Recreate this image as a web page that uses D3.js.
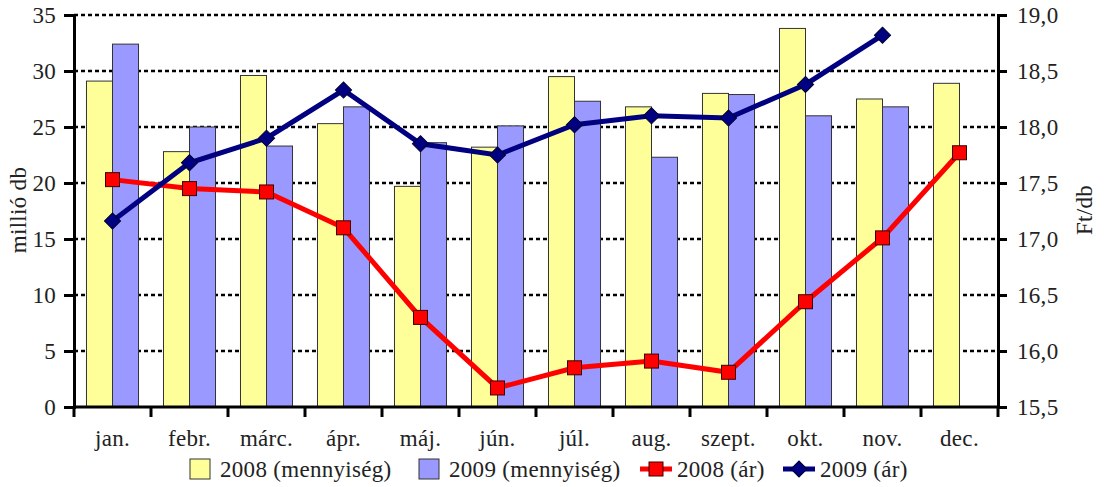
<!DOCTYPE html>
<html>
<head>
<meta charset="utf-8">
<script src="https://cdn.jsdelivr.net/npm/d3@7"></script>
<style>
  body { margin: 0; background: #fff; }
  svg text { font-family: "Liberation Serif", "Times New Roman", serif; fill: #222; letter-spacing: 0.3px; }
</style>
</head>
<body>
<svg id="chart" width="1104" height="487"></svg>
<script>
// Months (Hungarian abbreviations)
const months = ["jan.", "febr.", "márc.", "ápr.", "máj.", "jún.", "júl.", "aug.", "szept.", "okt.", "nov.", "dec."];

// Quantities, million pieces (left axis)
const qty2008 = [29.1, 22.8, 29.6, 25.3, 19.7, 23.2, 29.5, 26.8, 28.0, 33.8, 27.5, 28.9];
const qty2009 = [32.4, 25.0, 23.3, 26.8, 23.6, 25.1, 27.3, 22.3, 27.9, 26.0, 26.8, null];

// Prices, Ft/db (right axis)
const price2008 = [17.53, 17.45, 17.42, 17.10, 16.30, 15.67, 15.85, 15.91, 15.81, 16.44, 17.01, 17.77];
const price2009 = [17.16, 17.68, 17.90, 18.33, 17.85, 17.75, 18.02, 18.10, 18.08, 18.38, 18.82, null];

const leftTicks = [0, 5, 10, 15, 20, 25, 30, 35];
const rightTicks = [15.5, 16.0, 16.5, 17.0, 17.5, 18.0, 18.5, 19.0];

const legendItems = [
  { label: "2008 (mennyiség)", type: "bar", color: "#FFFF99", x: 190 },
  { label: "2009 (mennyiség)", type: "bar", color: "#9999FF", x: 419 },
  { label: "2008 (ár)", type: "square", color: "#FF0000", x: 640 },
  { label: "2009 (ár)", type: "diamond", color: "#000080", x: 783 }
];

const fontSize = 23;
const margin = { top: 15, right: 106, bottom: 80, left: 74 };
const width = 1104, height = 487;
const innerWidth = width - margin.left - margin.right;
const innerHeight = height - margin.top - margin.bottom;

const svg = d3.select("#chart");
const g = svg.append("g").attr("transform", `translate(${margin.left},${margin.top})`);

/*************/
/*  Scales   */
/*************/
const xScale = d3.scaleBand().domain(months).range([0, innerWidth]).padding(0);
const xSub = d3.scaleBand().domain(["y2008", "y2009"]).range([0, xScale.bandwidth()])
  .paddingInner(0).paddingOuter(0.48);
const yLeft = d3.scaleLinear().domain([0, 35]).range([innerHeight, 0]);
const yRight = d3.scaleLinear().domain([15.5, 19.0]).range([innerHeight, 0]);

/****************/
/*  Gridlines   */
/****************/
g.append("g")
  .selectAll("line")
  .data(leftTicks.filter(t => t > 0))
  .join("line")
    .attr("x1", 0).attr("x2", innerWidth)
    .attr("y1", d => yLeft(d)).attr("y2", d => yLeft(d))
    .attr("stroke", "#000")
    .attr("stroke-width", 2.5)
    .attr("stroke-dasharray", "4,3");

/***********/
/*  Bars   */
/***********/
const barData = months.flatMap((m, i) => [
  { month: m, key: "y2008", value: qty2008[i], color: "#FFFF99" },
  { month: m, key: "y2009", value: qty2009[i], color: "#9999FF" }
]).filter(d => d.value != null);

g.append("g")
  .selectAll("rect")
  .data(barData)
  .join("rect")
    .attr("x", d => xScale(d.month) + xSub(d.key))
    .attr("y", d => yLeft(d.value))
    .attr("width", xSub.bandwidth())
    .attr("height", d => innerHeight - yLeft(d.value))
    .attr("fill", d => d.color)
    .attr("stroke", "#333")
    .attr("stroke-width", 1);

/************/
/*  Axes    */
/************/
const axisLeft = g.append("g")
  .call(d3.axisLeft(yLeft).tickValues(leftTicks).tickSize(10).tickPadding(8).tickFormat(d3.format("d")));
const axisRight = g.append("g")
  .attr("transform", `translate(${innerWidth},0)`)
  .call(d3.axisRight(yRight).tickValues(rightTicks).tickSize(9).tickPadding(10)
    .tickFormat(d => d3.format(".1f")(d).replace(".", ",")));

[axisLeft, axisRight].forEach(a => {
  a.attr("font-family", null).attr("font-size", null);
  a.select(".domain").attr("stroke", "#000").attr("stroke-width", 3);
  a.selectAll(".tick line").attr("stroke", "#000").attr("stroke-width", 3);
  a.selectAll(".tick text").attr("font-size", fontSize).attr("fill", "#222");
});

// Bottom axis with ticks between categories
const xAxis = g.append("g").attr("transform", `translate(0,${innerHeight})`);
xAxis.append("line")
  .attr("x1", 0).attr("x2", innerWidth)
  .attr("stroke", "#000").attr("stroke-width", 3);
xAxis.selectAll(".xtick")
  .data(months.map(m => xScale(m)).concat([innerWidth]))
  .join("line")
    .attr("class", "xtick")
    .attr("x1", d => d).attr("x2", d => d)
    .attr("y1", 0).attr("y2", 10)
    .attr("stroke", "#000").attr("stroke-width", 3);
xAxis.selectAll(".xlabel")
  .data(months)
  .join("text")
    .attr("class", "xlabel")
    .attr("x", d => xScale(d) + xScale.bandwidth() / 2)
    .attr("y", 39)
    .attr("text-anchor", "middle")
    .attr("font-size", fontSize)
    .text(d => d);

// Axis titles
svg.append("text")
  .attr("transform", "translate(26,210) rotate(-90)")
  .attr("text-anchor", "middle")
  .attr("font-size", fontSize)
  .text("millió db");
svg.append("text")
  .attr("transform", "translate(1092,210) rotate(-90)")
  .attr("text-anchor", "middle")
  .attr("font-size", fontSize)
  .text("Ft/db");

/*************/
/*  Lines    */
/*************/
const cx = m => xScale(m) + xScale.bandwidth() / 2;
const diamond = d3.symbol().type(d3.symbolSquare).size(130);

const lineGen = d3.line()
  .defined(d => d.value != null)
  .x(d => cx(d.month))
  .y(d => yRight(d.value));

const series2008 = months.map((m, i) => ({ month: m, value: price2008[i] }));
const series2009 = months.map((m, i) => ({ month: m, value: price2009[i] })).filter(d => d.value != null);

g.append("path")
  .datum(series2008)
  .attr("d", lineGen)
  .attr("fill", "none")
  .attr("stroke", "#FF0000")
  .attr("stroke-width", 5);

g.append("path")
  .datum(series2009)
  .attr("d", lineGen)
  .attr("fill", "none")
  .attr("stroke", "#000080")
  .attr("stroke-width", 5);

g.append("g")
  .selectAll("rect")
  .data(series2008)
  .join("rect")
    .attr("x", d => cx(d.month) - 7)
    .attr("y", d => yRight(d.value) - 7)
    .attr("width", 14).attr("height", 14)
    .attr("fill", "#FF0000")
    .attr("stroke", "#400000")
    .attr("stroke-width", 1);

g.append("g")
  .selectAll("path")
  .data(series2009)
  .join("path")
    .attr("transform", d => `translate(${cx(d.month)},${yRight(d.value)}) rotate(45)`)
    .attr("d", diamond)
    .attr("fill", "#000080")
    .attr("stroke", "#000030")
    .attr("stroke-width", 1);

/*************/
/*  Legend   */
/*************/
const legend = svg.append("g").attr("transform", "translate(0,469)");
legendItems.forEach(item => {
  const lg = legend.append("g").attr("transform", `translate(${item.x},0)`);
  let textX;
  if (item.type === "bar") {
    lg.append("rect")
      .attr("x", 0).attr("y", -10).attr("width", 20).attr("height", 20)
      .attr("fill", item.color).attr("stroke", "#333").attr("stroke-width", 1);
    textX = 30;
  } else {
    lg.append("line")
      .attr("x1", 0).attr("x2", 32).attr("y1", 0).attr("y2", 0)
      .attr("stroke", item.color).attr("stroke-width", 5);
    if (item.type === "square") {
      lg.append("rect")
        .attr("x", 9).attr("y", -7).attr("width", 14).attr("height", 14)
        .attr("fill", item.color).attr("stroke", "#400000").attr("stroke-width", 1);
    } else {
      lg.append("path")
        .attr("transform", "translate(16,0) rotate(45)")
        .attr("d", diamond)
        .attr("fill", item.color).attr("stroke", "#000030").attr("stroke-width", 1);
    }
    textX = 37;
  }
  lg.append("text")
    .attr("x", textX)
    .attr("y", 0)
    .attr("dy", "0.35em")
    .attr("font-size", fontSize)
    .text(item.label);
});
</script>
</body>
</html>
